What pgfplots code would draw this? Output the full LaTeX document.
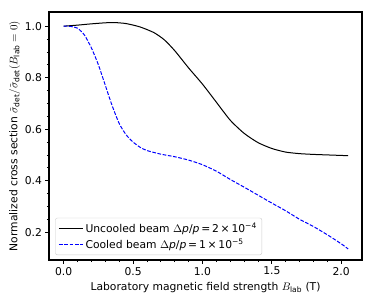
\documentclass[border=0pt]{standalone}
\usepackage{pgfplots}
\pgfplotsset{compat=1.18}
\usepackage{fontspec}
\setmainfont{DejaVu Sans}
\begin{document}
\begin{tikzpicture}
\begin{axis}[
  scale only axis,
  width=313bp, height=248bp,
  xmin=-0.106, xmax=2.15,
  ymin=0.092, ymax=1.055,
  xtick={0,0.5,1,1.5,2},
  xticklabels={0.0,0.5,1.0,1.5,2.0},
  ytick={0.2,0.4,0.6,0.8,1.0},
  yticklabels={0.2,0.4,0.6,0.8,1.0},
  minor x tick num=4,
  minor y tick num=3,
  tick align=outside,
  tick pos=left,
  major tick length=3.5bp,
  minor tick length=2bp,
  every tick/.style={black, line width=0.8bp},
  axis line style={line width=1.1bp},
  tick label style={font=\fontsize{10.8}{13}\selectfont},
  label style={font=\fontsize{10.8}{13}\selectfont},
  /pgf/number format/assume math mode=true,
  xlabel={Laboratory magnetic field strength $B_{\mathrm{lab}}$ (T)},
  ylabel={Normalized cross section $\tilde{\sigma}_{\mathrm{det}}/\tilde{\sigma}_{\mathrm{det}}(B_{\mathrm{lab}}=0)$},
  xlabel style={yshift=0bp},
  ylabel style={yshift=-2bp},
  legend style={at={(0.02,0.02)}, anchor=south west, draw=black!20, rounded corners=2bp,
    font=\fontsize{10.8}{13}\selectfont, row sep=1bp, inner sep=3bp},
  legend cell align=left,
  legend image code/.code={\draw[#1] (0cm,0cm) -- (0.85cm,0cm);},
]
\addplot[black, line width=1bp, smooth, tension=0.4] coordinates {
(0,1.000) (0.1,1.004) (0.2,1.009) (0.3,1.013) (0.365,1.014) (0.45,1.010)
(0.55,0.997) (0.65,0.975) (0.725,0.947) (0.8,0.905) (0.9,0.838) (1.0,0.775)
(1.1,0.705) (1.2,0.635) (1.3,0.584) (1.4,0.548) (1.5,0.525) (1.6,0.511)
(1.7,0.505) (1.8,0.502) (1.9,0.500) (2.05,0.497)};
\addlegendentry{Uncooled beam $\Delta$\textit{p}/\textit{p}\,=\,2\,×\,10\textsuperscript{−4}}
\addplot[blue, line width=1bp, dash pattern=on 3.7bp off 1.6bp, smooth, tension=0.4] coordinates {
(0,1.000) (0.05,0.999) (0.1,0.992) (0.15,0.965) (0.2,0.915) (0.25,0.850)
(0.3,0.770) (0.35,0.690) (0.4,0.622) (0.45,0.578) (0.5,0.550) (0.55,0.530)
(0.6,0.517) (0.7,0.503) (0.8,0.493) (0.9,0.480) (1.0,0.462) (1.1,0.437)
(1.2,0.405) (1.3,0.375) (1.4,0.344) (1.5,0.313) (1.6,0.283) (1.7,0.250)
(1.8,0.222) (1.9,0.190) (2.0,0.155) (2.05,0.135)};
\addlegendentry{Cooled beam $\Delta$\textit{p}/\textit{p}\,=\,1\,×\,10\textsuperscript{−5}}
\end{axis}
\path ([shift={(-49bp,-43bp)}]current axis.south west) rectangle ([shift={(12bp,12bp)}]current axis.north east);
\end{tikzpicture}
\end{document}
